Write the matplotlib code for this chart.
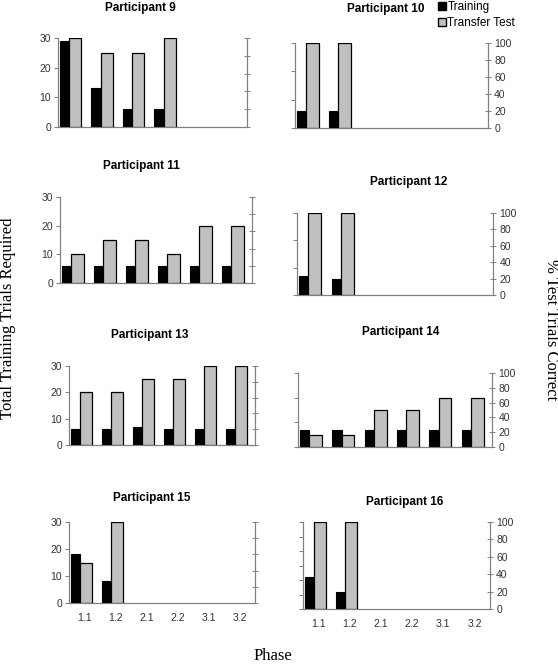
import numpy as np
import matplotlib
matplotlib.use('Agg')
import matplotlib.pyplot as plt
from matplotlib.lines import Line2D

phases = ['1.1', '1.2', '2.1', '2.2', '3.1', '3.2']

# training trials required (left scale) / % transfer test correct (right scale)
p9_training = [29, 13, 6, 6]
p9_transfer = [100, 83.3, 83.3, 100]
p10_training = [6, 6]
p10_transfer = [100, 100]
p11_training = [6, 6, 6, 6, 6, 6]
p11_transfer = [33.3, 50, 50, 33.3, 66.7, 66.7]
p12_training = [7, 6]
p12_transfer = [100, 100]
p13_training = [6, 6, 7, 6, 6, 6]
p13_transfer = [66.7, 66.7, 83.3, 83.3, 100, 100]
p14_training = [7, 7, 7, 7, 7, 7]
p14_transfer = [16.7, 16.7, 50, 50, 66.7, 66.7]
p15_training = [18, 8]
p15_transfer = [50, 100]
p16_training = [11, 6]
p16_transfer = [100, 100]

participants = [9, 10, 11, 12, 13, 14, 15, 16]
training = [p9_training, p10_training, p11_training, p12_training,
            p13_training, p14_training, p15_training, p16_training]
transfer = [p9_transfer, p10_transfer, p11_transfer, p12_transfer,
            p13_transfer, p14_transfer, p15_transfer, p16_transfer]

W, H = 558, 664
# panel boxes in pixels: left, top, right, bottom
boxes = [(58, 38, 247, 127), (295, 43, 488, 128),
         (60, 197, 252, 283), (297, 213, 493, 295),
         (69, 366, 255, 445), (298, 373, 492, 447),
         (69, 522, 255, 603), (303, 522, 490, 609)]
titles_xy = [(140, 8), (386, 9), (141, 166), (409, 182),
             (150, 335), (401, 332), (152, 498), (405, 502)]

spine_c = '#7f7f7f'
text_c = '#333333'
plt.rcParams['font.family'] = ['Liberation Sans', 'DejaVu Sans']

fig = plt.figure(figsize=(W / 100, H / 100), dpi=100)

for i in range(len(participants)):
    l, t, r, b = boxes[i]
    ax = fig.add_axes([l / W, 1 - b / H, (r - l) / W, (b - t) / H])
    ax2 = ax.twinx()
    x = np.arange(len(training[i]))
    ax.bar(x - 0.44, training[i], width=0.29, align='edge', color='black',
           edgecolor='black', linewidth=0.8, zorder=3)
    ax2.bar(x - 0.15, transfer[i], width=0.39, align='edge', color='#c0c0c0',
            edgecolor='black', linewidth=0.9, zorder=3)
    ax.set_xlim(-0.5, 5.5)
    ax.set_ylim(0, 30)
    ax2.set_ylim(0, 100)
    if participants[i] == 16:
        ax.set_yticks(np.arange(0, 31, 5))
    else:
        ax.set_yticks([0, 10, 20, 30])
    ax2.set_yticks([0, 20, 40, 60, 80, 100])
    left_col = i % 2 == 0
    ax.tick_params(axis='y', direction='out', length=3, width=0.7, color=spine_c,
                   labelsize=7.5, labelcolor=text_c, pad=2, labelleft=left_col)
    ax2.tick_params(axis='y', direction='inout', length=5, width=0.7, color=spine_c,
                    labelsize=7.5, labelcolor=text_c, pad=2, labelright=not left_col)
    ax.set_xticks(np.arange(6))
    if i >= 6:
        ax.set_xticklabels(phases)
    else:
        ax.set_xticklabels([])
    ax.tick_params(axis='x', length=0, labelsize=7.5, labelcolor=text_c, pad=7)
    for a in (ax, ax2):
        a.spines['top'].set_visible(False)
        for s in ('left', 'right', 'bottom'):
            a.spines[s].set_color(spine_c)
            a.spines[s].set_linewidth(0.8)
    tx, ty = titles_xy[i]
    fig.text(tx / W, 1 - ty / H, 'Participant %d' % participants[i],
             ha='center', va='center', fontsize=8.5, fontweight='bold')

handles = [Line2D([], [], marker='s', linestyle='', markersize=6,
                  markerfacecolor='black', markeredgecolor='black'),
           Line2D([], [], marker='s', linestyle='', markersize=6,
                  markerfacecolor='#c0c0c0', markeredgecolor='black')]
fig.legend(handles, ['Training', 'Transfer Test'], loc='upper left',
           bbox_to_anchor=(438 / W, 1 - 1 / H), frameon=False, fontsize=8.5,
           handlelength=0.6, handletextpad=0.2, labelspacing=0.35,
           borderaxespad=0, borderpad=0)

serif = ['Liberation Serif', 'DejaVu Serif']
fig.text(8 / W, 1 - 318 / H, 'Total Training Trials Required', rotation=90,
         ha='center', va='center', fontsize=12, family=serif)
fig.text(551 / W, 1 - 330 / H, '% Test Trials Correct', rotation=-90,
         ha='center', va='center', fontsize=12, family=serif)
fig.text(273 / W, 1 - 656 / H, 'Phase', ha='center', va='center',
         fontsize=12, family=serif)

fig.savefig('out.png', dpi=100)
